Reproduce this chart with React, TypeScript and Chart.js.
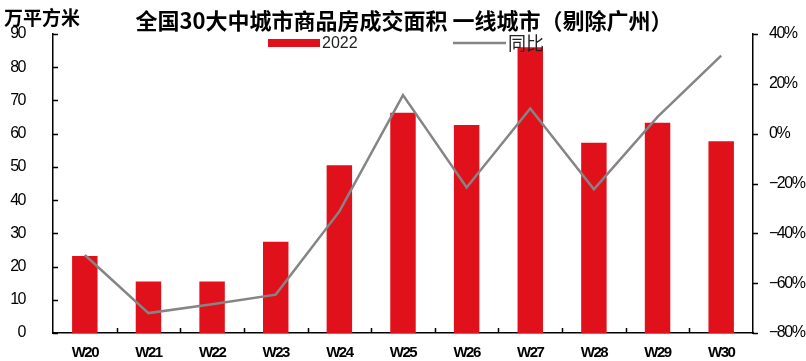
import React, { useEffect, useRef } from "react";
import { Chart, registerables } from "chart.js";

Chart.register(...registerables);

const categories = ["W20", "W21", "W22", "W23", "W24", "W25", "W26", "W27", "W28", "W29", "W30"];
const area2022 = [23.2, 15.5, 15.5, 27.5, 50.5, 66.3, 62.6, 86.0, 57.3, 63.3, 57.7];
const yoy = [-48.7, -72.0, -68.5, -64.6, -31.2, 15.5, -21.6, 10.1, -22.3, 6.7, 31.3];

const titleText = "全国30大中城市商品房成交面积 一线城市（剔除广州）";
const unitText = "万平方米";
const barLabel = "2022";
const lineLabel = "同比";

const RED = "#E0111B";
const GREY = "#858585";
const SANS = "'Liberation Sans', Arial, sans-serif";
const CJK = "'Noto Sans CJK SC', 'Noto Sans', sans-serif";

const zeroPad = (s: any) => {
  s.paddingTop = 0;
  s.paddingBottom = 0;
};

const decorPlugin = {
  id: "decor",
  beforeDraw(chart: any) {
    (chart.ctx as any).letterSpacing = "-1.5px";
  },
  beforeDatasetsDraw(chart: any) {
    (chart.ctx as any).letterSpacing = "0px";
  },
  afterDraw(chart: any) {
    const ctx = chart.ctx;
    (ctx as any).letterSpacing = "0px";
    const area = chart.chartArea;
    const yL = chart.scales.y;
    const yR = chart.scales.y1;
    ctx.save();
    ctx.strokeStyle = "#000";
    ctx.lineWidth = 1.5;
    ctx.beginPath();
    yL.ticks.forEach((t: any) => {
      const py = Math.round(yL.getPixelForValue(t.value)) + 0.5;
      ctx.moveTo(area.left, py);
      ctx.lineTo(area.left + 5, py);
    });
    yR.ticks.forEach((t: any) => {
      const py = Math.round(yR.getPixelForValue(t.value)) + 0.5;
      ctx.moveTo(area.right, py);
      ctx.lineTo(area.right + 5, py);
    });
    const n = categories.length;
    const step = (area.right - area.left) / n;
    for (let i = 1; i < n; i++) {
      const px = Math.round(area.left + i * step) + 0.5;
      ctx.moveTo(px, area.bottom);
      ctx.lineTo(px, area.bottom - 5);
    }
    ctx.stroke();

    ctx.fillStyle = "#000";
    ctx.textBaseline = "middle";
    ctx.textAlign = "left";
    ctx.font = "bold 19px " + CJK;
    ctx.fillText(unitText, 4, 18);

    ctx.textAlign = "center";
    ctx.font = "bold 22px " + CJK;
    ctx.fillText(titleText, 404, 21);

    ctx.fillStyle = RED;
    ctx.fillRect(268, 39, 52, 8);
    ctx.fillStyle = "#222";
    ctx.textAlign = "left";
    ctx.font = "16px " + SANS;
    ctx.fillText(barLabel, 322, 44);
    ctx.strokeStyle = GREY;
    ctx.lineWidth = 2.5;
    ctx.beginPath();
    ctx.moveTo(453, 43);
    ctx.lineTo(506, 43);
    ctx.stroke();
    ctx.font = "18px " + CJK;
    ctx.fillText(lineLabel, 508, 43);
    ctx.restore();
  },
};

export default function App() {
  const ref = useRef<HTMLCanvasElement | null>(null);
  useEffect(() => {
    if (!ref.current) return;
    const chart = new Chart(ref.current, {
      type: "bar",
      data: {
        labels: categories,
        datasets: [
          {
            type: "line",
            label: lineLabel,
            data: yoy,
            yAxisID: "y1",
            borderColor: GREY,
            borderWidth: 2.5,
            pointRadius: 0,
            tension: 0,
            fill: false,
            order: 0,
          } as any,
          {
            type: "bar",
            label: barLabel,
            data: area2022,
            yAxisID: "y",
            backgroundColor: RED,
            barPercentage: 0.4,
            categoryPercentage: 1,
            order: 1,
          },
        ],
      },
      options: {
        responsive: false,
        animation: false,
        layout: { padding: { top: 34, left: 0, right: 0, bottom: 0 } },
        plugins: {
          legend: { display: false },
          title: { display: false },
          tooltip: { enabled: false },
        },
        scales: {
          x: {
            offset: true,
            grid: { display: false, drawTicks: false },
            border: { display: true, color: "#000", width: 1.5 },
            ticks: {
              color: "#000",
              padding: 11,
              maxRotation: 0,
              autoSkip: false,
              font: { family: SANS, size: 15, weight: "bold" },
            },
            afterFit: (s: any) => {
              s.height = 28;
              s.paddingLeft = 0;
              s.paddingRight = 0;
            },
          },
          y: {
            position: "left",
            min: 0,
            max: 90,
            grid: { display: false, drawTicks: false },
            border: { display: true, color: "#000", width: 1.5 },
            ticks: {
              stepSize: 10,
              color: "#000",
              padding: 28,
              font: { family: SANS, size: 16 },
            },
            afterFit: (s: any) => {
              s.width = 53;
              zeroPad(s);
            },
          },
          y1: {
            position: "right",
            min: -80,
            max: 40,
            grid: { display: false, drawTicks: false },
            border: { display: true, color: "#000", width: 1.5 },
            ticks: {
              stepSize: 20,
              color: "#000",
              padding: 16,
              font: { family: SANS, size: 16 },
              callback: (v: any) => (Number(v) < 0 ? "\u2212" + Math.abs(Number(v)) : v) + "%",
            },
            afterFit: (s: any) => {
              s.width = 53;
              zeroPad(s);
            },
          },
        },
      },
      plugins: [decorPlugin],
    });
    return () => chart.destroy();
  }, []);
  return (
    <div style={{ position: "fixed", left: 0, top: 0, width: 806, height: 361, background: "#fff" }}>
      <canvas ref={ref} width={806} height={361} style={{ display: "block" }} />
    </div>
  );
}
